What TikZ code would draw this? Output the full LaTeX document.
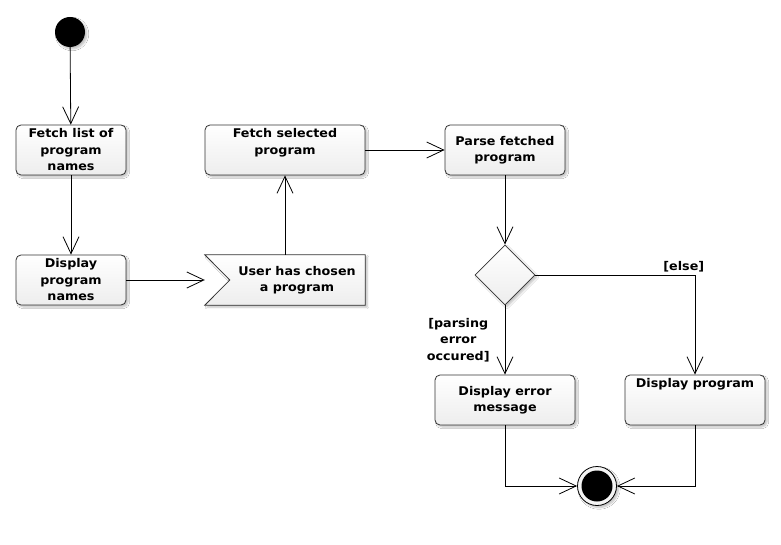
\documentclass[tikz,border=0pt]{standalone}
\usepackage{fontspec}
\newfontfamily\uifont{DejaVu Sans}[BoldFont={DejaVu Sans Bold}, BoldFeatures={FakeStretch=1.06}]
\usetikzlibrary{arrows.meta,shapes.geometric,shadows.blur,calc}

\begin{document}
\begin{tikzpicture}[x=1pt,y=-1pt,
font=\uifont\bfseries\fontsize{12}{16.5}\selectfont,
boxlook/.style={shade, top color=white, bottom color=gray!14, draw=black!80, line width=0.8pt,
  blur shadow={shadow xshift=2pt, shadow yshift=-2pt, shadow opacity=25, shadow blur steps=6}},
actbox/.style={boxlook, rounded corners=5pt, rectangle, align=center, minimum height=50pt, inner sep=2pt},
sigbox/.style={rectangle, minimum width=160pt, minimum height=50pt, inner sep=0pt},
decision/.style={boxlook, diamond, minimum width=60pt, minimum height=60pt, inner sep=0pt},
initnode/.style={circle, fill=black, minimum size=30pt, inner sep=0pt,
  blur shadow={shadow xshift=2pt, shadow yshift=-2pt, shadow opacity=25, shadow blur steps=6}},
finalnode/.style={circle, draw=black, line width=0.8pt, fill=gray!8, minimum size=39pt, inner sep=0pt,
  blur shadow={shadow xshift=2pt, shadow yshift=-2pt, shadow opacity=25, shadow blur steps=6}},
flow/.style={draw, line width=0.8pt, -{Straight Barb[length=17pt,width=16pt,line width=0.8pt]}},
guard/.style={align=center, inner sep=1pt}]

\useasboundingbox[fill=white] (0,0) rectangle (781,545);

\node[initnode] (start) at (70,32) {};
\node[actbox, minimum width=110pt] (fetchlist) at (71,150) {Fetch list of\\program\\names};
\node[actbox, minimum width=110pt] (shownames) at (71,280) {Display\\program\\names};

% signal receipt
\node[sigbox] (chosen) at (285,280) {};
\path[boxlook] (chosen.north west) -- (chosen.north east) -- (chosen.south east)
  -- (chosen.south west) -- ($(chosen.west)+(25,0)$) -- cycle;
\node (chosentext) at ([xshift=12pt]chosen.center) [align=center] {User has chosen\\a program};

\node[actbox, minimum width=160pt, label={[anchor=north, align=center, inner sep=4pt]north:Fetch selected\\program}] (fetchsel) at (285,150) {};
\node[actbox, minimum width=120pt] (parse) at (505,150) {Parse fetched\\program};
\node[decision] (check) at (505,275) {};
\node[actbox, minimum width=140pt] (errmsg) at (505,400) {Display error\\message};
\node[actbox, minimum width=140pt, label={[anchor=north, inner sep=4pt]north:Display program}] (showprog) at (695,400) {};

\node[finalnode] (end) at (597,486) {};
\fill (end.center) circle (15.5pt);

\draw[flow] (start) -- (fetchlist);
\draw[flow] (fetchlist) -- (shownames);
\draw[flow] (shownames.east) -- (chosen.west);
\draw[flow] (chosen.north) -- (fetchsel.south);
\draw[flow] (fetchsel.east) -- (parse.west);
\draw[flow] (parse.south) -- (check.north);
\draw[flow] (check.south) -- node[guard, pos=0.5, left=14pt] {[parsing\\error\\occured]} (errmsg.north);
\draw[flow] (check.east) -- node[guard, pos=0.93, above=2pt] {[else]} (check.east -| showprog.north) -- (showprog.north);
\draw[flow] (errmsg.south) |- (end.west);
\draw[flow] (showprog.south) |- (end.east);
\end{tikzpicture}
\end{document}
